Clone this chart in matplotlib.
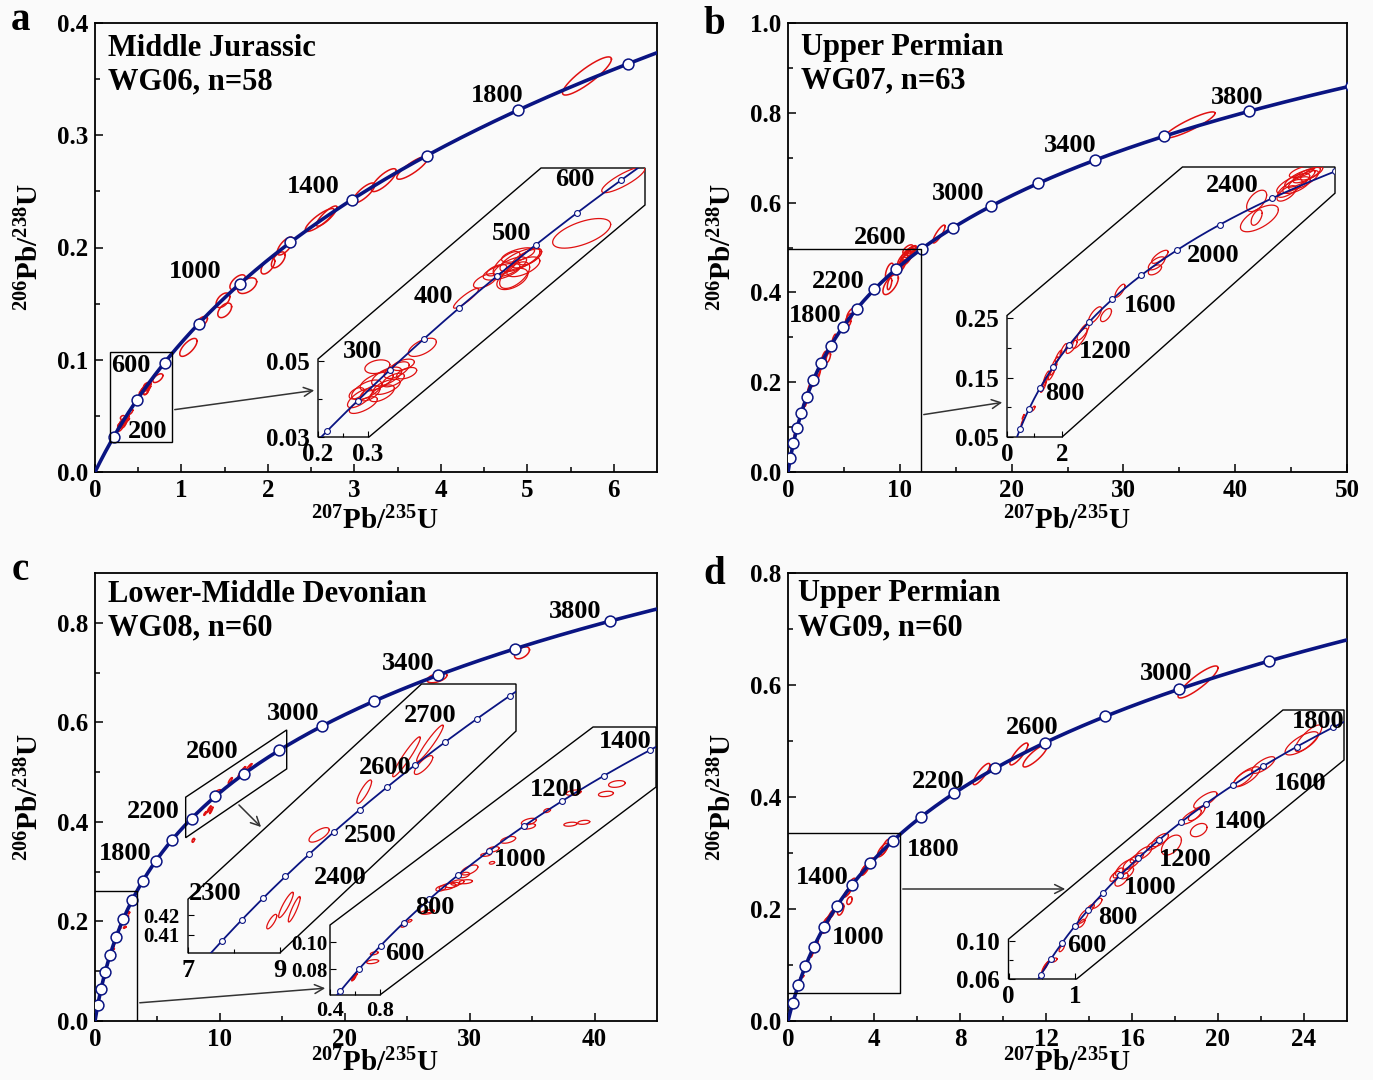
import numpy as np
import matplotlib
matplotlib.use('Agg')
import matplotlib.pyplot as plt
from matplotlib.patches import Polygon, FancyArrowPatch

plt.rcParams['font.family'] = ['Liberation Serif', 'DejaVu Serif']
plt.rcParams['font.weight'] = 'bold'
plt.rcParams['mathtext.fontset'] = 'custom'
plt.rcParams['mathtext.rm'] = 'Liberation Serif:bold'
plt.rcParams['mathtext.it'] = 'Liberation Serif:bold'
plt.rcParams['mathtext.bf'] = 'Liberation Serif:bold'

# ---------------- data ----------------
# U decay constants (per year) for the concordia curve
L238 = 1.55125e-10
L235 = 9.8485e-10

MAIN_MARK_AGES = list(range(200, 4001, 200))

# panel a (WG06) error ellipses: x=207Pb/235U, y=206Pb/238U, sx, sy, rho
A_X = [5.69, 3.67, 3.34, 3.11, 2.60, 2.68, 2.20, 2.00, 2.12, 1.65, 1.76, 1.48, 1.50, 1.23, 1.08,
       0.8107, 0.7273, 0.604, 0.584, 0.6173, 0.5673, 0.5933, 0.600, 0.624, 0.5773, 0.6107, 0.5887,
       0.534, 0.5573, 0.496, 0.4087, 0.3187, 0.3373, 0.3573, 0.3707, 0.3173, 0.2973, 0.284, 0.3373,
       0.304, 0.3507, 0.2907, 0.3277, 0.3773, 0.2773]
A_Y = [0.3528, 0.271, 0.260, 0.2486, 0.2245, 0.228, 0.2013, 0.1835, 0.189, 0.169, 0.166, 0.153, 0.144,
       0.1336, 0.111,
       0.0977, 0.0836, 0.0766, 0.0748, 0.0770, 0.0735, 0.0726, 0.0779, 0.0775, 0.0757, 0.0748, 0.0716,
       0.0711, 0.0739, 0.0665, 0.0536, 0.0485, 0.0459, 0.0476, 0.0490, 0.0446, 0.0424, 0.0402, 0.0432,
       0.0415, 0.0450, 0.0384, 0.0415, 0.0468, 0.0415]
A_SX = [0.283, 0.18, 0.145, 0.127, 0.168, 0.12, 0.093, 0.08, 0.08, 0.09, 0.11, 0.08, 0.08, 0.07, 0.10,
        0.0433, 0.058, 0.040, 0.033, 0.030, 0.037, 0.030, 0.033, 0.023, 0.027, 0.033, 0.031,
        0.023, 0.020, 0.025, 0.028, 0.025, 0.030, 0.025, 0.022, 0.033, 0.030, 0.025, 0.027,
        0.020, 0.022, 0.028, 0.025, 0.020, 0.015]
A_SY = [0.017, 0.0102, 0.0102, 0.0089, 0.0102, 0.009, 0.008, 0.0071, 0.0071, 0.0067, 0.007, 0.0065,
        0.0065, 0.005, 0.008,
        0.0034, 0.0039, 0.0031, 0.0026, 0.0025, 0.0022, 0.0035, 0.0019, 0.0022, 0.0031, 0.0026, 0.0028,
        0.0019, 0.0015, 0.0026, 0.0024, 0.0018, 0.0025, 0.0022, 0.0015, 0.0025, 0.0026, 0.0025, 0.0020,
        0.0020, 0.0018, 0.0022, 0.0022, 0.0015, 0.0015]
A_RHO = [0.88, 0.85, 0.8, 0.8, 0.85, 0.85, 0.7, 0.6, 0.6, 0.6, 0.5, 0.5, 0.5, 0.6, 0.7,
         0.85, 0.6, 0.7, 0.7, 0.7, 0.6, 0.6, 0.6, 0.6, 0.7, 0.6, 0.5,
         0.6, 0.6, 0.9, 0.6, 0.3, 0.6, 0.6, 0.5, 0.6, 0.6, 0.7, 0.6,
         0.6, 0.6, 0.7, 0.6, 0.5, 0.5]

# panel b (WG07)
B_X = [35.96, 13.5, 10.41, 10.65, 10.90, 10.29, 10.53, 10.78, 11.08, 10.17, 10.72, 9.08, 9.18, 9.08,
       5.56, 5.44, 5.38, 4.11, 3.20, 3.60, 2.77, 2.65, 2.35, 2.05, 1.87, 1.75, 1.69, 1.62, 1.44, 1.38,
       1.32, 0.96, 0.59, 0.55]
B_Y = [0.773, 0.530, 0.4764, 0.4848, 0.4904, 0.468, 0.4736, 0.482, 0.4932, 0.4596, 0.496, 0.447, 0.4175,
       0.419, 0.353, 0.342, 0.331, 0.296, 0.255, 0.255, 0.227, 0.216, 0.2015, 0.197, 0.186, 0.175, 0.164,
       0.156, 0.152, 0.143, 0.134, 0.098, 0.084, 0.074]
B_SX = [2.24, 0.55, 0.60, 0.55, 0.50, 0.45, 0.50, 0.55, 0.40, 0.35, 0.45, 0.364, 0.69, 0.20,
        0.30, 0.30, 0.24, 0.18, 0.24, 0.20, 0.22, 0.27, 0.20, 0.12, 0.12, 0.12, 0.12, 0.12, 0.10, 0.10,
        0.10, 0.06, 0.04, 0.04]
B_SY = [0.029, 0.020, 0.0168, 0.015, 0.013, 0.015, 0.014, 0.016, 0.011, 0.013, 0.010, 0.018, 0.0224,
        0.013, 0.011, 0.011, 0.0084, 0.011, 0.014, 0.011, 0.014, 0.017, 0.011, 0.010, 0.010, 0.010,
        0.010, 0.010, 0.009, 0.009, 0.009, 0.004, 0.004, 0.005]
B_RHO = [0.9, 0.85, 0.75, 0.75, 0.75, 0.75, 0.65, 0.75, 0.75, 0.65, 0.65, 0.55, 0.65, 0.55,
         0.75, 0.65, 0.55, 0.75, 0.75, 0.6, 0.8, 0.8, 0.75, 0.85, 0.85, 0.85, 0.85, 0.85, 0.85, 0.85,
         0.85, 0.7, 0.9, 0.9]

# panel c (WG08)
C_X = [34.19, 27.38, 7.87, 8.82, 9.13, 9.31, 9.85, 10.83, 11.75, 12.26, 12.12,
       2.703, 2.615, 2.356, 2.143, 2.330, 2.437, 1.996, 1.996, 1.830, 1.710, 1.700, 1.650, 1.520,
       1.480, 1.490, 1.343, 1.290, 1.383, 1.423, 1.180, 1.195, 1.040, 0.990, 0.7555, 0.742,
       0.5955, 0.590, 0.605, 0.585]
C_Y = [0.7396, 0.6895, 0.363, 0.4168, 0.4253, 0.4231, 0.461, 0.483, 0.5008, 0.5077, 0.4966,
       0.2174, 0.2100, 0.2110, 0.1977, 0.1876, 0.1890, 0.1895, 0.1860, 0.1760, 0.1690, 0.1590, 0.1650,
       0.1537, 0.1500, 0.1450, 0.1414, 0.1400, 0.1426, 0.1444, 0.1224, 0.1232, 0.1160, 0.1123, 0.0920,
       0.0858, 0.0747, 0.0735, 0.0758, 0.0725]
C_SX = [0.60, 0.80, 0.10, 0.109, 0.16, 0.13, 0.22, 0.16, 0.30, 0.29, 0.20,
        0.067, 0.060, 0.060, 0.027, 0.053, 0.048, 0.060, 0.053, 0.060, 0.048, 0.021, 0.040, 0.067,
        0.040, 0.053, 0.067, 0.040, 0.053, 0.053, 0.053, 0.040, 0.016, 0.021, 0.032, 0.048,
        0.015, 0.015, 0.015, 0.012]
C_SY = [0.012, 0.010, 0.004, 0.0037, 0.0065, 0.0065, 0.0037, 0.006, 0.0102, 0.0093, 0.0048,
        0.0025, 0.0020, 0.0020, 0.0015, 0.0015, 0.0015, 0.0025, 0.0020, 0.0025, 0.0020, 0.0010, 0.0012,
        0.0037, 0.0020, 0.0015, 0.0025, 0.0020, 0.0020, 0.0020, 0.0015, 0.0012, 0.0010, 0.0010, 0.0012,
        0.0015, 0.0012, 0.0012, 0.0012, 0.0010]
C_RHO = [0.5, 0.5, 0.5, 0.8, 0.9, 0.9, 0.7, 0.85, 0.95, 0.95, 0.8,
         0.3, 0.3, 0.4, 0.4, 0.3, 0.3, 0.5, 0.4, 0.5, 0.4, 0.3, 0.3, 0.6,
         0.4, 0.3, 0.5, 0.4, 0.4, 0.4, 0.4, 0.4, 0.5, 0.5, 0.5, 0.4,
         0.8, 0.8, 0.8, 0.8]

# panel d (WG09)
D_X = [19.07, 10.74, 11.49, 9.00, 4.409, 4.51, 3.83, 3.58, 3.53, 2.96, 2.75, 2.86, 2.83, 2.45, 2.28,
       2.18, 2.03, 1.93, 1.85, 1.75, 1.78, 1.70, 1.65, 1.60, 1.33, 1.23, 1.125, 1.10, 0.80, 0.69,
       0.549, 0.57, 0.53]
D_Y = [0.6054, 0.4768, 0.4732, 0.441, 0.3053, 0.3105, 0.2827, 0.2705, 0.269, 0.2463, 0.2289, 0.215,
       0.2324, 0.1994, 0.2046, 0.1994, 0.1911, 0.186, 0.1808, 0.1756, 0.1704, 0.1635, 0.1704, 0.1669,
       0.1388, 0.1336, 0.1249, 0.118, 0.0919, 0.0798, 0.0728, 0.0745, 0.071]
D_SX = [0.93, 0.42, 0.56, 0.39, 0.25, 0.20, 0.175, 0.20, 0.15, 0.175, 0.15, 0.125, 0.125, 0.15, 0.125,
        0.10, 0.125, 0.10, 0.125, 0.14, 0.10, 0.10, 0.075, 0.075, 0.075, 0.06, 0.075, 0.05, 0.04, 0.04,
        0.03, 0.03, 0.03]
D_SY = [0.0286, 0.0196, 0.0196, 0.019, 0.0121, 0.0139, 0.0087, 0.0104, 0.0087, 0.0087, 0.0076, 0.0069,
        0.0076, 0.0104, 0.0069, 0.0052, 0.0069, 0.0052, 0.0069, 0.0087, 0.0062, 0.0069, 0.0052, 0.0052,
        0.0052, 0.0042, 0.0069, 0.0042, 0.0035, 0.0021, 0.004, 0.004, 0.004]
D_RHO = [0.88, 0.85, 0.85, 0.85, 0.75, 0.8, 0.75, 0.75, 0.75, 0.75, 0.75, 0.4, 0.75, 0.5, 0.7,
         0.7, 0.7, 0.7, 0.7, 0.7, 0.6, 0.6, 0.7, 0.7, 0.7, 0.7, 0.7, 0.7, 0.7, 0.5,
         0.9, 0.9, 0.9]

# ---------------- style ----------------
W, H = 1373, 1080
BG = '#fafafa'
NAVY = '#0a1482'
RED = '#e01010'

fig = plt.figure(figsize=(W / 100, H / 100), dpi=100, facecolor=BG)


def concordia(t_ma):
    t = np.asarray(t_ma, dtype=float) * 1e6
    return np.exp(L235 * t) - 1, np.exp(L238 * t) - 1


def px_axes(l, r, t, b):
    return fig.add_axes([l / W, 1 - b / H, (r - l) / W, (b - t) / H])


def ftext(x, y, s, size=19, **kw):
    fig.text(x / W, 1 - y / H, s, fontsize=size, fontweight='bold', **kw)


def farrow(p0, p1):
    a = FancyArrowPatch((p0[0] / W, 1 - p0[1] / H), (p1[0] / W, 1 - p1[1] / H),
                        transform=fig.transFigure, arrowstyle='->', mutation_scale=16,
                        color='#333333', lw=1.1)
    fig.add_artist(a)


def draw_ellipses(ax, ex, ey, esx, esy, erho, lw=1.0, clip=None):
    th = np.linspace(0, 2 * np.pi, 150)
    for x, y, sx, sy, r in zip(ex, ey, esx, esy, erho):
        xs = x + sx * np.cos(th)
        ys = y + sy * (r * np.cos(th) + np.sqrt(1 - r * r) * np.sin(th))
        ln, = ax.plot(xs, ys, color=RED, lw=lw, zorder=2)
        if clip is not None:
            ln.set_clip_path(clip)


T_CURVE = np.linspace(0, 4600, 3000)


def main_panel(box, xmax, ymax, xmaj, xmin, ymaj, ymin, ell, xfmt='%d'):
    ax = px_axes(*box)
    ax.set_facecolor(BG)
    ax.set_xlim(0, xmax)
    ax.set_ylim(0, ymax)
    cx, cy = concordia(T_CURVE)
    ax.plot(cx, cy, color=NAVY, lw=2.6, zorder=3)
    mx, my = concordia(MAIN_MARK_AGES)
    ax.plot(mx, my, 'o', ms=7.8, mfc='white', mec=NAVY, mew=1.1, zorder=4)
    draw_ellipses(ax, *ell, lw=1.1)
    ax.set_xticks(xmaj)
    ax.set_xticklabels([xfmt % v for v in xmaj])
    ax.set_xticks(xmin, minor=True)
    ax.set_yticks(ymaj)
    ax.set_yticklabels(['%.1f' % v for v in ymaj])
    ax.set_yticks(ymin, minor=True)
    ax.tick_params(which='both', direction='in', top=False, right=False, width=1.1)
    ax.tick_params(which='major', length=6, labelsize=18, pad=5)
    ax.tick_params(which='minor', length=3.5)
    for s in ax.spines.values():
        s.set_linewidth(1.3)
    return ax


def inset(box, xlim, ylim, poly, marks, ell, xt, xtl, xtm, yt, ytl, ytm, tsize=18, ysize=None,
          ypad=6):
    ax = px_axes(*box)
    ax.set_xlim(*xlim)
    ax.set_ylim(*ylim)
    ax.patch.set_visible(False)
    for s in ax.spines.values():
        s.set_visible(False)
    pg = Polygon(poly, closed=True, transform=ax.transAxes, facecolor=BG,
                 edgecolor='black', lw=1.0, zorder=0)
    pg.set_clip_on(False)
    ax.add_patch(pg)
    cx, cy = concordia(T_CURVE)
    ln, = ax.plot(cx, cy, color=NAVY, lw=1.3, zorder=3)
    ln.set_clip_path(pg)
    mx, my = concordia(marks)
    mk, = ax.plot(mx, my, 'o', ms=4.2, mfc='white', mec=NAVY, mew=0.8, zorder=4)
    mk.set_clip_path(pg)
    draw_ellipses(ax, *ell, lw=0.9, clip=pg)
    ax.set_xticks(xt)
    ax.set_xticklabels(xtl)
    ax.set_xticks(xtm, minor=True)
    ax.set_yticks(yt)
    ax.set_yticklabels(ytl)
    ax.set_yticks(ytm, minor=True)
    ax.tick_params(which='both', direction='in', top=False, right=False, width=0.8)
    ax.tick_params(axis='x', which='major', length=4, labelsize=tsize, pad=4)
    ax.tick_params(axis='y', which='major', length=4, labelsize=ysize or tsize, pad=ypad)
    ax.tick_params(which='minor', length=3)
    return ax


XLAB = r'$^{207}$Pb/$^{235}$U'
YLAB = r'$^{206}$Pb/$^{238}$U'

# ================= panel a =================
ell_a = (A_X, A_Y, A_SX, A_SY, A_RHO)
axa = main_panel((95, 657, 23, 472), 6.5, 0.4, list(range(0, 7)), np.arange(0.5, 6.5, 1.0),
                 [0, 0.1, 0.2, 0.3, 0.4], np.arange(0.05, 0.4, 0.1), ell_a)
axa.add_patch(plt.Rectangle((0.173, 0.0267), 0.718, 0.0803, fill=False, ec='black', lw=1.0, zorder=5))
inset((318, 645, 168, 437), (0.2, 0.854), (0.03, 0.1008),
      [(0, 0), (0.156, 0), (1, 0.8625), (1, 1), (0.682, 1), (0, 0.29)],
      list(range(200, 601, 50)), ell_a,
      [0.2, 0.3], ['0.2', '0.3'], [0.25], [0.03, 0.05], ['0.03', '0.05'], [0.04])
farrow((172, 410), (317, 390))
for s, x, y in [('1800', 497, 95), ('1400', 313, 186), ('1000', 195, 272), ('600', 131, 365),
                ('200', 148, 432), ('600', 575, 180), ('500', 512, 233), ('400', 433, 296),
                ('300', 363, 352)]:
    ftext(x, y, s, ha='center', va='center')
ftext(108, 49, 'Middle Jurassic', size=22, va='center')
ftext(108, 82, 'WG06, n=58', size=22, va='center')
ftext(20, 21, 'a', size=28, ha='center', va='center')
ftext(375, 521, XLAB, size=21, ha='center', va='center')
ftext(30, 247, YLAB, size=21, ha='center', va='center', rotation=90)

# ================= panel b =================
ell_b = (B_X, B_Y, B_SX, B_SY, B_RHO)
axb = main_panel((788, 1347, 23, 472), 50, 1.0, list(range(0, 51, 10)), np.arange(5, 50, 10),
                 [0, 0.2, 0.4, 0.6, 0.8, 1.0], np.arange(0.1, 1.0, 0.2), ell_b)
axb.plot([0, 11.9, 11.9], [0.497, 0.497, 0], color='black', lw=1.0, zorder=5)
inset((1007, 1335, 167, 437), (0, 11.93), (0.05, 0.504),
      [(0, 0), (0.168, 0), (1, 0.903), (1, 1), (0.535, 1), (0, 0.45)],
      list(range(200, 2601, 200)), ell_b,
      [0, 2], ['0', '2'], [1], [0.05, 0.15, 0.25], ['0.05', '0.15', '0.25'], [0.10, 0.20])
farrow((921, 415), (1005, 402))
for s, x, y in [('3800', 1237, 97), ('3400', 1070, 146), ('3000', 958, 194), ('2600', 880, 237),
                ('2200', 838, 282), ('1800', 815, 316), ('2400', 1232, 185), ('2000', 1213, 255),
                ('1600', 1150, 305), ('1200', 1105, 352), ('800', 1065, 394)]:
    ftext(x, y, s, ha='center', va='center')
ftext(801, 47, 'Upper Permian', size=22, va='center')
ftext(801, 81, 'WG07, n=63', size=22, va='center')
ftext(714, 24, 'b', size=28, ha='center', va='center')
ftext(1067, 521, XLAB, size=21, ha='center', va='center')
ftext(723, 247, YLAB, size=21, ha='center', va='center', rotation=90)

# ================= panel c =================
ell_c = (C_X, C_Y, C_SX, C_SY, C_RHO)
axc = main_panel((95, 657, 573, 1021), 45, 0.9, list(range(0, 41, 10)), np.arange(5, 45, 10),
                 [0, 0.2, 0.4, 0.6, 0.8], np.arange(0.1, 0.9, 0.2), ell_c)
axc.plot([0, 3.36, 3.36], [0.2606, 0.2606, 0], color='black', lw=1.0, zorder=5)
axc.add_patch(Polygon([(7.26, 0.3682), (7.26, 0.4496), (15.35, 0.5847), (15.35, 0.5065)],
                      closed=True, fill=False, ec='black', lw=1.0, zorder=5))
inset((188, 516, 684, 953), (7.0, 14.13), (0.4008, 0.5379),
      [(0, 0), (0.28, 0), (1, 0.825), (1, 1), (0.712, 1), (0, 0.2)],
      list(range(2200, 2801, 50)), ell_c,
      [7, 9], ['7', '9'], [8], [0.41, 0.42], ['0.41', '0.42'], [], tsize=19, ysize=15)
inset((330, 656, 727, 995), (0.409, 3.017), (0.0611, 0.2596),
      [(0, 0), (0.153, 0), (1, 0.776), (1, 1), (0.807, 1), (0, 0.261)],
      list(range(400, 1401, 100)), ell_c,
      [0.4, 0.8], ['0.4', '0.8'], [0.6], [0.08, 0.10], ['0.08', '0.10'], [], tsize=16, ysize=15,
      ypad=2)
farrow((237, 803), (263, 829))
farrow((137, 1003), (328, 988))
for s, x, y in [('3800', 575, 612), ('3400', 408, 663), ('3000', 293, 713), ('2600', 212, 751),
                ('2200', 153, 812), ('1800', 125, 853), ('2700', 430, 716), ('2600', 385, 768),
                ('2500', 370, 835), ('2400', 340, 877), ('2300', 215, 893), ('1400', 625, 742),
                ('1200', 556, 790), ('1000', 520, 860), ('800', 435, 907), ('600', 405, 953)]:
    ftext(x, y, s, ha='center', va='center')
ftext(108, 594, 'Lower-Middle Devonian', size=22, va='center')
ftext(108, 628, 'WG08, n=60', size=22, va='center')
ftext(20, 571, 'c', size=28, ha='center', va='center')
ftext(375, 1063, XLAB, size=21, ha='center', va='center')
ftext(30, 797, YLAB, size=21, ha='center', va='center', rotation=90)

# ================= panel d =================
ell_d = (D_X, D_Y, D_SX, D_SY, D_RHO)
axd = main_panel((788, 1347, 573, 1021), 26, 0.8, list(range(0, 25, 4)), np.arange(2, 26, 4),
                 [0, 0.2, 0.4, 0.6, 0.8], np.arange(0.1, 0.8, 0.2), ell_d)
axd.plot([0, 5.21, 5.21, 0], [0.3357, 0.3357, 0.05, 0.05], color='black', lw=1.0, zorder=5)
inset((1008.5, 1344, 710, 979), (0, 5.045), (0.06, 0.340),
      [(0, 0), (0.203, 0), (1, 0.814), (1, 1), (0.818, 1), (0, 0.148)],
      list(range(400, 1801, 100)), ell_d,
      [0, 1], ['0', '1'], [0.5], [0.06, 0.10], ['0.06', '0.10'], [0.08])
farrow((900, 889), (1068, 889))
for s, x, y in [('3000', 1166, 673), ('2600', 1032, 727), ('2200', 938, 782), ('1800', 933, 849),
                ('1400', 822, 877), ('1000', 858, 938), ('1800', 1318, 722), ('1600', 1300, 783),
                ('1400', 1240, 822), ('1200', 1185, 860), ('1000', 1150, 888), ('800', 1118, 918),
                ('600', 1087, 946)]:
    ftext(x, y, s, ha='center', va='center')
ftext(798, 594, 'Upper Permian', size=22, va='center')
ftext(798, 628, 'WG09, n=60', size=22, va='center')
ftext(714, 575, 'd', size=28, ha='center', va='center')
ftext(1067, 1063, XLAB, size=21, ha='center', va='center')
ftext(723, 797, YLAB, size=21, ha='center', va='center', rotation=90)

fig.savefig('out.png', dpi=100, facecolor=BG)
